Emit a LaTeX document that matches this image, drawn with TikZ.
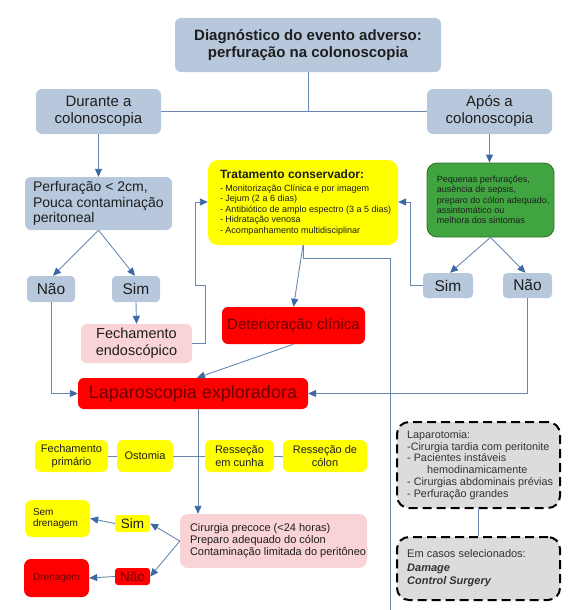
\documentclass[tikz,border=0pt]{standalone}
\usepackage{fontspec}
\setmainfont{Liberation Sans}
\usetikzlibrary{arrows.meta}
\definecolor{bluefill}{RGB}{183,200,221}
\definecolor{linec}{RGB}{104,136,178}
\definecolor{arrc}{RGB}{60,104,165}
\definecolor{pinkfill}{RGB}{249,211,214}
\definecolor{yel}{RGB}{255,255,0}
\definecolor{redfill}{RGB}{255,0,0}
\definecolor{darkred}{RGB}{110,0,0}
\definecolor{greenfill}{RGB}{64,165,64}
\definecolor{greenline}{RGB}{45,110,45}
\definecolor{grayfill}{RGB}{220,220,220}
\definecolor{txt}{RGB}{30,30,30}
\definecolor{graytxt}{RGB}{50,50,50}
\begin{document}
\begin{tikzpicture}[x=1pt,y=-1pt,
  box/.style={rounded corners=6pt, inner sep=0pt, align=center, text=txt},
  bluebox/.style={box, fill=bluefill},
  pinkbox/.style={box, fill=pinkfill},
  yelbox/.style={box, fill=yel},
  redbox/.style={box, fill=redfill, text=darkred},
  greenbox/.style={box, fill=greenfill, draw=greenline, line width=0.8pt, rounded corners=10pt},
  dashbox/.style={box, fill=grayfill, draw=black, line width=2pt, dash pattern=on 9pt off 5pt, rounded corners=12pt},
  lefttext/.style={inner sep=0pt, anchor=west, align=left, text=txt},
  conn/.style={draw=linec, line width=0.9pt},
  arr/.style={conn, -{Triangle[length=8pt,width=7pt,fill=arrc,color=arrc]}},
  sz/.style 2 args={minimum width=#1pt, minimum height=#2pt}
]
\useasboundingbox (0,0) rectangle (585,610);

% top level
\node[bluebox, sz={266}{54}, font=\fontsize{15}{17.5}\selectfont\bfseries] (top) at (308,45)
  {Diagnóstico do evento adverso:\\ perfuração na colonoscopia};
\node[bluebox, sz={125}{45}, font=\fontsize{15}{17}\selectfont] (durante) at (98.5,111.5)
  {Durante a\\colonoscopia};
\node[bluebox, sz={125}{45}, font=\fontsize{15}{17}\selectfont] (apos) at (489.5,111.5)
  {Após a\\colonoscopia};

% left branch
\node[bluebox, sz={147}{53}] (perf) at (98.5,203.5) {};
\node[lefttext, font=\fontsize{14}{15.5}\selectfont] (perft) at ([xshift=8pt]perf.west)
  {Perfuração < 2cm,\\Pouca contaminação\\peritoneal};
\node[bluebox, rounded corners=4pt, sz={48}{26}, font=\fontsize{15.5}{17}\selectfont] (naoL) at (51,289) {Não};
\node[bluebox, rounded corners=4pt, sz={48}{26}, font=\fontsize{15.5}{17}\selectfont] (simL) at (136,289) {Sim};
\node[pinkbox, sz={111}{39}, font=\fontsize{14.5}{17}\selectfont] (fecho) at (136.5,343.5)
  {Fechamento\\endoscópico};

% middle
\node[yelbox, rounded corners=10pt, sz={190}{85}] (trat) at (303,202.5) {};
\node[lefttext, font=\fontsize{9}{10.5}\selectfont] (tratt) at ([xshift=12pt]trat.west)
  {{\fontsize{12}{14}\selectfont\bfseries Tratamento conservador:}\\[2pt]
   - Monitorização Clínica e por imagem\\
   - Jejum (2 a 6 dias)\\
   - Antibiótico de amplo espectro (3 a 5 dias)\\
   - Hidratação venosa\\
   - Acompanhamento multidisciplinar};
\node[redbox, sz={143}{37}, font=\fontsize{15}{17}\selectfont] (deter) at (293.5,325.5) {Deterioração clínica};

% right branch
\node[greenbox, sz={127}{74}] (green) at (490.5,200) {};
\node[lefttext, font=\fontsize{9}{10.3}\selectfont] (greent) at ([xshift=10pt]green.west)
  {Pequenas perfurações,\\ausência de sepsis,\\preparo do cólon adequado,\\assintomático ou\\melhora dos sintomas};
\node[bluebox, rounded corners=4pt, sz={50}{25}, font=\fontsize{15.5}{17}\selectfont] (simR) at (448,285.5) {Sim};
\node[bluebox, rounded corners=4pt, sz={49}{25}, font=\fontsize{15.5}{17}\selectfont] (naoR) at (527.5,285.5) {Não};

% laparoscopia
\node[redbox, sz={230}{31}, font=\fontsize{18}{20}\selectfont] (lapa) at (193,393.5) {Laparoscopia exploradora};

% yellow row
\node[yelbox, sz={73}{32}, font=\fontsize{11}{12.3}\selectfont] (fp) at (71.5,456) {Fechamento\\primário};
\node[yelbox, sz={56}{32}, font=\fontsize{11}{12.3}\selectfont] (ost) at (145,456) {Ostomia};
\node[yelbox, sz={69}{32}, font=\fontsize{11}{12.3}\selectfont] (rc) at (239.5,456) {Resseção\\em cunha};
\node[yelbox, sz={84}{32}, font=\fontsize{11}{12.3}\selectfont] (rcol) at (325,456) {Resseção de\\cólon};

% bottom left
\node[pinkbox, rounded corners=8pt, sz={187}{54}] (cir) at (273.5,541) {};
\node[lefttext, font=\fontsize{11}{12}\selectfont] (cirt) at ([xshift=10pt]cir.west)
  {Cirurgia precoce (<24 horas)\\Preparo adequado do cólon\\Contaminação limitada do peritôneo};
\node[yelbox, rounded corners=3pt, sz={35}{17}, font=\fontsize{13.5}{15}\selectfont] (simS) at (132.5,523.5) {Sim};
\node[redbox, rounded corners=3pt, sz={35}{17}, font=\fontsize{13.5}{15}\selectfont] (naoS) at (132.5,576.5) {Não};
\node[yelbox, rounded corners=7pt, sz={65}{37}] (semd) at (57.5,518.5) {};
\node[lefttext, font=\fontsize{10}{11}\selectfont] (semdt) at ([xshift=8pt]semd.west) {Sem\\drenagem};
\node[redbox, rounded corners=7pt, sz={65}{38}, font=\fontsize{10}{11}\selectfont] (dren) at (56.5,578) {Drenagem};

% dashed boxes
\node[dashbox, sz={163}{86}] (lapt) at (478.5,465) {};
\node[lefttext, text=graytxt, font=\fontsize{10.8}{11.8}\selectfont] (laptt) at ([xshift=11pt]lapt.west)
  {Laparotomia:\\-Cirurgia tardia com peritonite\\- Pacientes instáveis\\\hspace*{20pt}hemodinamicamente\\- Cirurgias abdominais prévias\\- Perfuração grandes};
\node[dashbox, sz={163}{63}] (dcs) at (478.5,568.5) {};
\node[lefttext, text=graytxt, font=\fontsize{11}{13.5}\selectfont] (dcst) at ([xshift=11pt]dcs.west)
  {Em casos selecionados:\\\textbf{\textit{Damage}}\\\textbf{\textit{Control Surgery}}};

% coordinates for bends
\coordinate (tb) at (303,258);
\coordinate (tr) at (390,258);
\coordinate (bot) at (390,610);
\coordinate (f1) at (205,343.5);
\coordinate (f2) at (205,285);
\coordinate (f3) at (195,285);
\coordinate (f4) at (195,202);
\coordinate (s1) at (410,285.5);
\coordinate (s2) at (410,202);
\coordinate (lx) at (198,409);

% connectors
\draw[conn] (top.south) -- (top.south |- durante.east);
\draw[conn] (durante.east) -- (apos.west);
\draw[arr] (durante.south) -- (perf.north);
\draw[arr] (apos.south) -- (apos.south |- green.north);
\draw[arr] (perf.south) -- ([xshift=2pt]naoL.north);
\draw[arr] (perf.south) -- ([xshift=-1pt]simL.north);
\draw[arr] (simL.south) -- (fecho.north);
\draw[arr] (fecho.east) -- (f1) -- (f2) -- (f3) -- (f4) -- (f4 -| trat.west);
\draw[arr] (simR.west) -- (s1) -- (s2) -- (s2 -| trat.east);
\draw[arr] (green.south) -- ([xshift=2pt]simR.north);
\draw[arr] (green.south) -- ([xshift=-2pt]naoR.north);
\draw[arr] (naoR.south) |- (lapa.east);
\draw[arr] (naoL.south) |- (lapa.west);
\draw[arr] (trat.south) -- (deter.north);
\draw[arr] (deter.south) -- ([xshift=4pt]lapa.north);
\draw[conn] (trat.south) -- (tb) -- (tr) -- (bot);
\draw[conn] (fp.east) -- (ost.west);
\draw[conn] (ost.east) -- (rc.west);
\draw[conn] (rc.east) -- (rcol.west);
\draw[arr] (lx) -- (lx |- cir.north);
\draw[arr] (cir.west) -- (simS.east);
\draw[arr] (cir.west) -- (naoS.east);
\draw[arr] (simS.west) -- (semd.east);
\draw[arr] (naoS.west) -- (dren.east);
\draw[conn] (lapt.south) -- (dcs.north);
\end{tikzpicture}
\end{document}
